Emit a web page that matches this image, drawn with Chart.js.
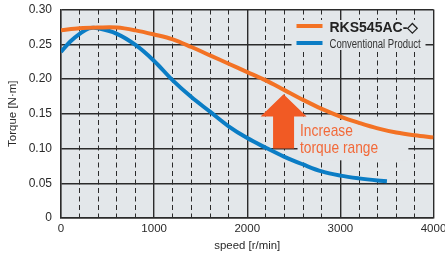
<!DOCTYPE html>
<html><head><meta charset="utf-8">
<script src="https://cdn.jsdelivr.net/npm/chart.js@4"></script>
<style>html,body{margin:0;padding:0;background:#fff;overflow:hidden}#wrap{width:445px;height:256px;position:relative}</style>
</head><body><div id="wrap"><canvas id="c" width="445" height="256"></canvas></div>
<script>
// ---- data ----
const speedA  = [0, 200, 400, 600, 800, 1000, 1200, 1400, 1600, 1800, 2000, 2200, 2400, 2600, 2800, 3000, 3200, 3400, 3600, 3800, 4000];
const torqueA = [0.270, 0.273, 0.274, 0.274, 0.270, 0.264, 0.257, 0.246, 0.234, 0.222, 0.210, 0.198, 0.184, 0.170, 0.157, 0.146, 0.137, 0.129, 0.123, 0.119, 0.116];
const speedB  = [0, 100, 200, 300, 400, 600, 800, 1000, 1200, 1400, 1600, 1800, 2000, 2200, 2400, 2600, 2800, 3000, 3200, 3400, 3500];
const torqueB = [0.239, 0.254, 0.265, 0.273, 0.273, 0.265, 0.249, 0.226, 0.198, 0.174, 0.153, 0.132, 0.115, 0.101, 0.088, 0.077, 0.067, 0.061, 0.057, 0.054, 0.053];
const seriesLabels = ['RKS545AC-\u25C7', 'Conventional Product'];
const xTickValues = [0, 1000, 2000, 3000, 4000];
const xMinorStep = 200;
const yTickValues = [0, 0.05, 0.10, 0.15, 0.20, 0.25, 0.30];
const yTickLabels = ['0', '0.05', '0.10', '0.15', '0.20', '0.25', '0.30'];
const xTitle = 'speed [r/min]';
const yTitle = 'Torque [N\u00B7m]';
const noteLines = ['Increase', 'torque range'];

// ---- styles ----
const ORANGE = '#f37224', BLUE = '#0b7dc5', ARROW = '#f15a24', NOTE = '#f26a3a';
const PLOT_BG = '#e3e7ea', GRID = '#2b2b2b', TXT = '#2a2a2a';
const SANS = '"Liberation Sans", Arial, sans-serif';
const arrowGeo = {x: 2390, tipY: 0.178, headBaseY: 0.146, baseY: 0.100, headHalf: 23, shaftHalf: 10.5};
const noteBox = {x0: 2540, x1: 3730, y0: 0.141, y1: 0.083};

const toXY = (xs, ys) => xs.map((x, i) => ({x, y: ys[i]}));

// condensed text helper (horizontally scaled sans, like a narrow face)
function narrowText(ctx, text, x, y, size, sx, weight) {
  ctx.save();
  ctx.font = (weight ? weight + ' ' : '') + size + 'px ' + SANS;
  ctx.translate(x, y);
  ctx.scale(sx, 1);
  ctx.fillText(text, 0, 0);
  ctx.restore();
}

const plotPlugin = {
  id: 'plotDecor',
  beforeDraw(chart) {
    const {ctx, chartArea: a} = chart;
    ctx.save();
    ctx.fillStyle = PLOT_BG;
    ctx.fillRect(a.left, a.top, a.right - a.left, a.bottom - a.top);
    ctx.restore();
  },
  beforeDatasetsDraw(chart) {
    const {ctx, chartArea: a, scales: {x, y}} = chart;
    ctx.save();
    ctx.fillStyle = PLOT_BG;
    ctx.fillRect(a.right - 142, a.top + 10.5, 134, 30);
    const nx0 = x.getPixelForValue(noteBox.x0), nx1 = x.getPixelForValue(noteBox.x1);
    const ny0 = y.getPixelForValue(noteBox.y0), ny1 = y.getPixelForValue(noteBox.y1);
    ctx.fillRect(nx0, ny0, nx1 - nx0, ny1 - ny0);
    ctx.restore();
  },
  afterDatasetsDraw(chart) {
    const {ctx, chartArea: a, scales: {x, y}} = chart;
    ctx.save();
    const ax = x.getPixelForValue(arrowGeo.x);
    const tip = y.getPixelForValue(arrowGeo.tipY);
    const hb = y.getPixelForValue(arrowGeo.headBaseY);
    const bb = y.getPixelForValue(arrowGeo.baseY);
    ctx.fillStyle = ARROW;
    ctx.beginPath();
    ctx.moveTo(ax, tip);
    ctx.lineTo(ax + arrowGeo.headHalf, hb);
    ctx.lineTo(ax + arrowGeo.shaftHalf, hb);
    ctx.lineTo(ax + arrowGeo.shaftHalf, bb);
    ctx.lineTo(ax - arrowGeo.shaftHalf, bb);
    ctx.lineTo(ax - arrowGeo.shaftHalf, hb);
    ctx.lineTo(ax - arrowGeo.headHalf, hb);
    ctx.closePath();
    ctx.fill();
    const nx0 = x.getPixelForValue(noteBox.x0);
    const ny0 = y.getPixelForValue(noteBox.y0);
    ctx.fillStyle = NOTE;
    ctx.textBaseline = 'alphabetic';
    ctx.textAlign = 'left';
    narrowText(ctx, noteLines[0], nx0 + 2.5, ny0 + 16, 17, 0.81);
    narrowText(ctx, noteLines[1], nx0 + 2.5, ny0 + 33, 17, 0.81);
    // legend
    const lx = a.right - 137, ly = a.top;
    const ds = chart.data.datasets;
    ctx.lineWidth = 4;
    ctx.strokeStyle = ds[0].borderColor;
    ctx.beginPath(); ctx.moveTo(lx, ly + 16.5); ctx.lineTo(lx + 26, ly + 16.5); ctx.stroke();
    ctx.strokeStyle = ds[1].borderColor;
    ctx.beginPath(); ctx.moveTo(lx, ly + 33.5); ctx.lineTo(lx + 26, ly + 33.5); ctx.stroke();
    ctx.fillStyle = '#222';
    ctx.font = 'bold 14px ' + SANS;
    ctx.fillText(ds[0].label, lx + 33, ly + 22.3);
    ctx.fillStyle = '#333';
    narrowText(ctx, ds[1].label, lx + 33, ly + 38.2, 12, 0.795);
    ctx.restore();
  }
};

new Chart(document.getElementById('c'), {
  type: 'line',
  data: {
    datasets: [
      {label: seriesLabels[0], data: toXY(speedA, torqueA), borderColor: ORANGE, borderWidth: 4, pointRadius: 0, tension: 0.35, fill: false},
      {label: seriesLabels[1], data: toXY(speedB, torqueB), borderColor: BLUE, borderWidth: 4, pointRadius: 0, tension: 0.35, fill: false}
    ]
  },
  options: {
    responsive: false,
    animation: false,
    devicePixelRatio: 1,
    layout: {padding: {top: 9.5, right: 11.5, left: 0, bottom: 0}},
    plugins: {legend: {display: false}, tooltip: {enabled: false}},
    scales: {
      x: {
        type: 'linear', min: 0, max: 4000,
        afterBuildTicks(s) {
          const t = [];
          for (let v = 0; v <= 4000; v += xMinorStep) t.push({value: v});
          s.ticks = t;
        },
        afterFit(s) { s.height = 38; s.paddingLeft = 0; s.paddingRight = 0; },
        ticks: {
          autoSkip: false, maxRotation: 0, padding: 4,
          color: TXT, font: {family: SANS, size: 11.5},
          callback: v => xTickValues.includes(v) ? String(v) : ''
        },
        grid: {
          color: GRID, drawTicks: false,
          lineWidth: c => (c.tick && c.tick.value % 1000 !== 0) ? 1 : 1.4
        },
        border: {
          display: true, color: GRID, width: 1.4,
          dash: c => (c.tick && c.tick.value % 1000 !== 0) ? [5, 3.5] : []
        },
        title: {display: true, text: xTitle, color: TXT, font: {family: SANS, size: 11.4}, padding: {top: 0, bottom: 3}}
      },
      y: {
        min: 0, max: 0.30,
        afterBuildTicks(s) { s.ticks = yTickValues.map(v => ({value: v})); },
        afterFit(s) { s.width = 61; s.paddingTop = 0; s.paddingBottom = 0; },
        ticks: {
          padding: 9, color: TXT, font: {family: SANS, size: 12},
          callback: (v, i) => yTickLabels[i]
        },
        grid: {color: GRID, drawTicks: false, lineWidth: 1.4},
        border: {display: true, color: GRID, width: 1.4},
        title: {display: true, text: yTitle, color: TXT, font: {family: SANS, size: 11.5}, padding: {top: 6, bottom: 0}}
      }
    }
  },
  plugins: [plotPlugin]
});
</script>
</body></html>
